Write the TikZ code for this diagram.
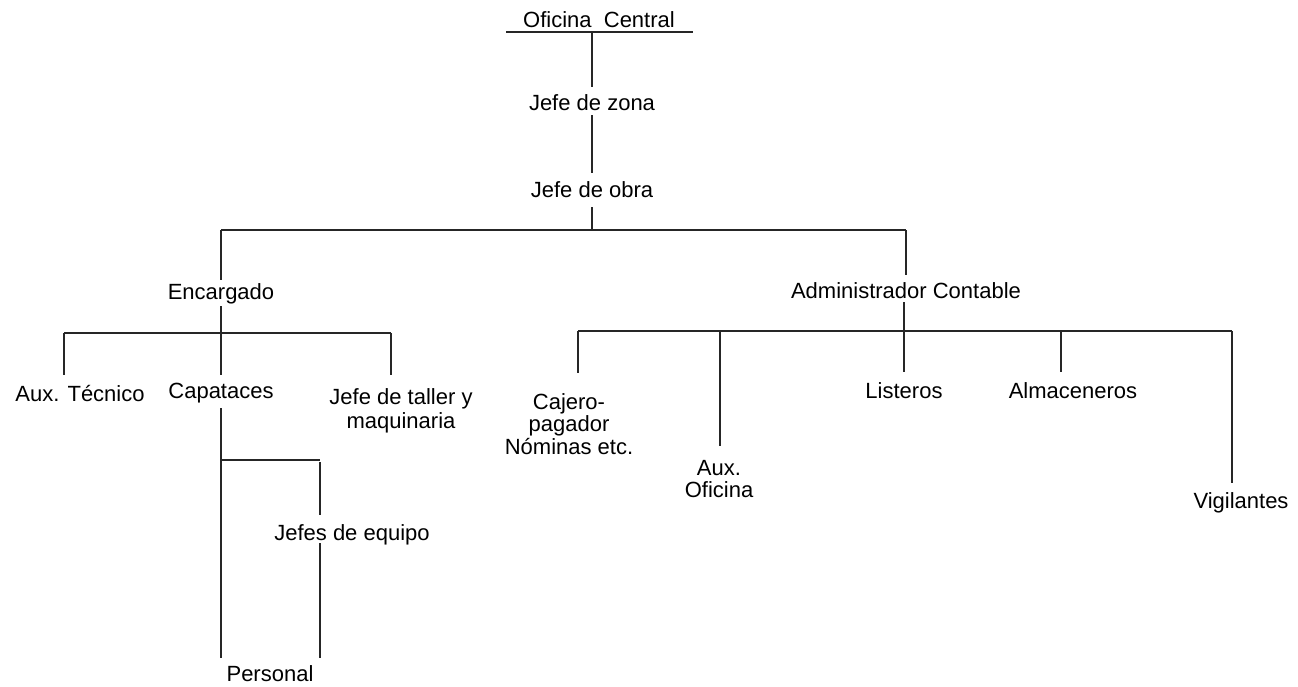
\documentclass[tikz,border=0pt]{standalone}
\usepackage{fontspec}
\setmainfont{Liberation Sans}
\begin{document}
\begin{tikzpicture}[x=1pt,y=-1pt,
  lbl/.style={inner sep=0pt, anchor=base, text height=16.1pt, text depth=6.9pt,
              font=\fontsize{22}{22}\selectfont},
  multi/.style={inner sep=0pt, anchor=base, font=\fontsize{22}{22}\selectfont},
  ln/.style={draw=black!85, line width=1.4pt},
  heavy/.style={draw=black!85, line width=2.8pt}
]
\useasboundingbox[fill=white] (0,0) rectangle (1298,687);

% ---- labels (placed on their baselines) ----
\node[lbl] (ofi)   at (599,28)  {Oficina\ \ Central};
\node[lbl] (zona)  at (592,111) {Jefe de zona};
\node[lbl] (obra)  at (592,197) {Jefe de obra};
\node[lbl] (enc)   at (221,299) {Encargado};
\node[lbl] (admin) at (906,298) {Administrador Contable};
\node[lbl] (auxt)  at (80,401)  {Aux. Técnico};
\node[lbl] (capa)  at (221,398) {Capataces};
\node[multi] (taller) at (401,404) {\begin{tabular}[t]{@{}c@{}}Jefe de taller y\\[2pt]maquinaria\end{tabular}};
\node[lbl] (jeq)   at (352,540) {Jefes de equipo};
\node[lbl] (pers)  at (270,681) {Personal};
\node[multi] (caj) at (569,409) {\begin{tabular}[t]{@{}c@{}}Cajero-\\pagador\\Nóminas etc.\end{tabular}};
\node[multi] (auxo) at (719,475) {\begin{tabular}[t]{@{}c@{}}Aux.\\Oficina\end{tabular}};
\node[lbl] (list)  at (904,398) {Listeros};
\node[lbl] (alm)   at (1073,398) {Almaceneros};
\node[lbl] (vig)   at (1241,508) {Vigilantes};

% ---- junction points of the bars ----
\coordinate (ofiL) at (506,32);
\coordinate (ofiR) at (693,32);
\coordinate (j1)  at (592,230);
\coordinate (j2l) at (64,333);
\coordinate (j2)  at (221,333);
\coordinate (j2r) at (391,333);
\coordinate (j3)  at (221,460);
\coordinate (j3r) at (320,460);
\coordinate (k1)  at (578,331);
\coordinate (k2)  at (720,331);
\coordinate (k4)  at (1061,331);
\coordinate (k5)  at (1232,331);

% ---- top chain ----
\draw[ln] (ofiL) -- (ofiR);
\draw[ln] (zona.north |- ofiL) -- ([yshift=8pt]zona.north);
\draw[ln] ([yshift=3pt]zona.south) -- ([yshift=8pt]obra.north);
\draw[ln] ([yshift=-3pt]obra.south) -- (j1);

% ---- first split ----
\draw[ln] (enc.north |- j1) -- (admin.north |- j1);
\draw[ln] (enc.north |- j1) -- ([yshift=3pt]enc.north);
\draw[ln] (admin.north |- j1) -- ([yshift=7pt]admin.north);

% ---- Encargado branch ----
\draw[ln] (enc.south) -- ([yshift=7pt]capa.north);
\draw[ln] (j2l) -- (j2r);
\draw[ln] (j2l) -- ([yshift=10pt]j2l |- auxt.north);
\draw[ln] (j2r) -- ([yshift=13pt]j2r |- taller.north);
\draw[ln] ([yshift=-3pt]capa.south) -- (capa.south |- 0,658);
\draw[ln] (j3) -- (j3r);
\draw[heavy] ([yshift=-2pt]j3r) -- ([yshift=9pt]j3r |- jeq.north);
\draw[ln] ([yshift=4pt]jeq.south -| j3r) -- (j3r |- 0,658);

% ---- Administrador branch ----
\draw[heavy] ([yshift=3pt]admin.south -| list.north) -- ([yshift=10pt]list.north);
\draw[ln] (k1) -- (k5);
\draw[ln] (k1) -- ([yshift=20pt]k1 |- caj.north);
\draw[ln] (k2) -- ([yshift=13pt]k2 |- auxo.north);
\draw[ln] (k4) -- ([yshift=10pt]k4 |- alm.north);
\draw[ln] (k5) -- ([yshift=9pt]k5 |- vig.north);
\end{tikzpicture}
\end{document}
